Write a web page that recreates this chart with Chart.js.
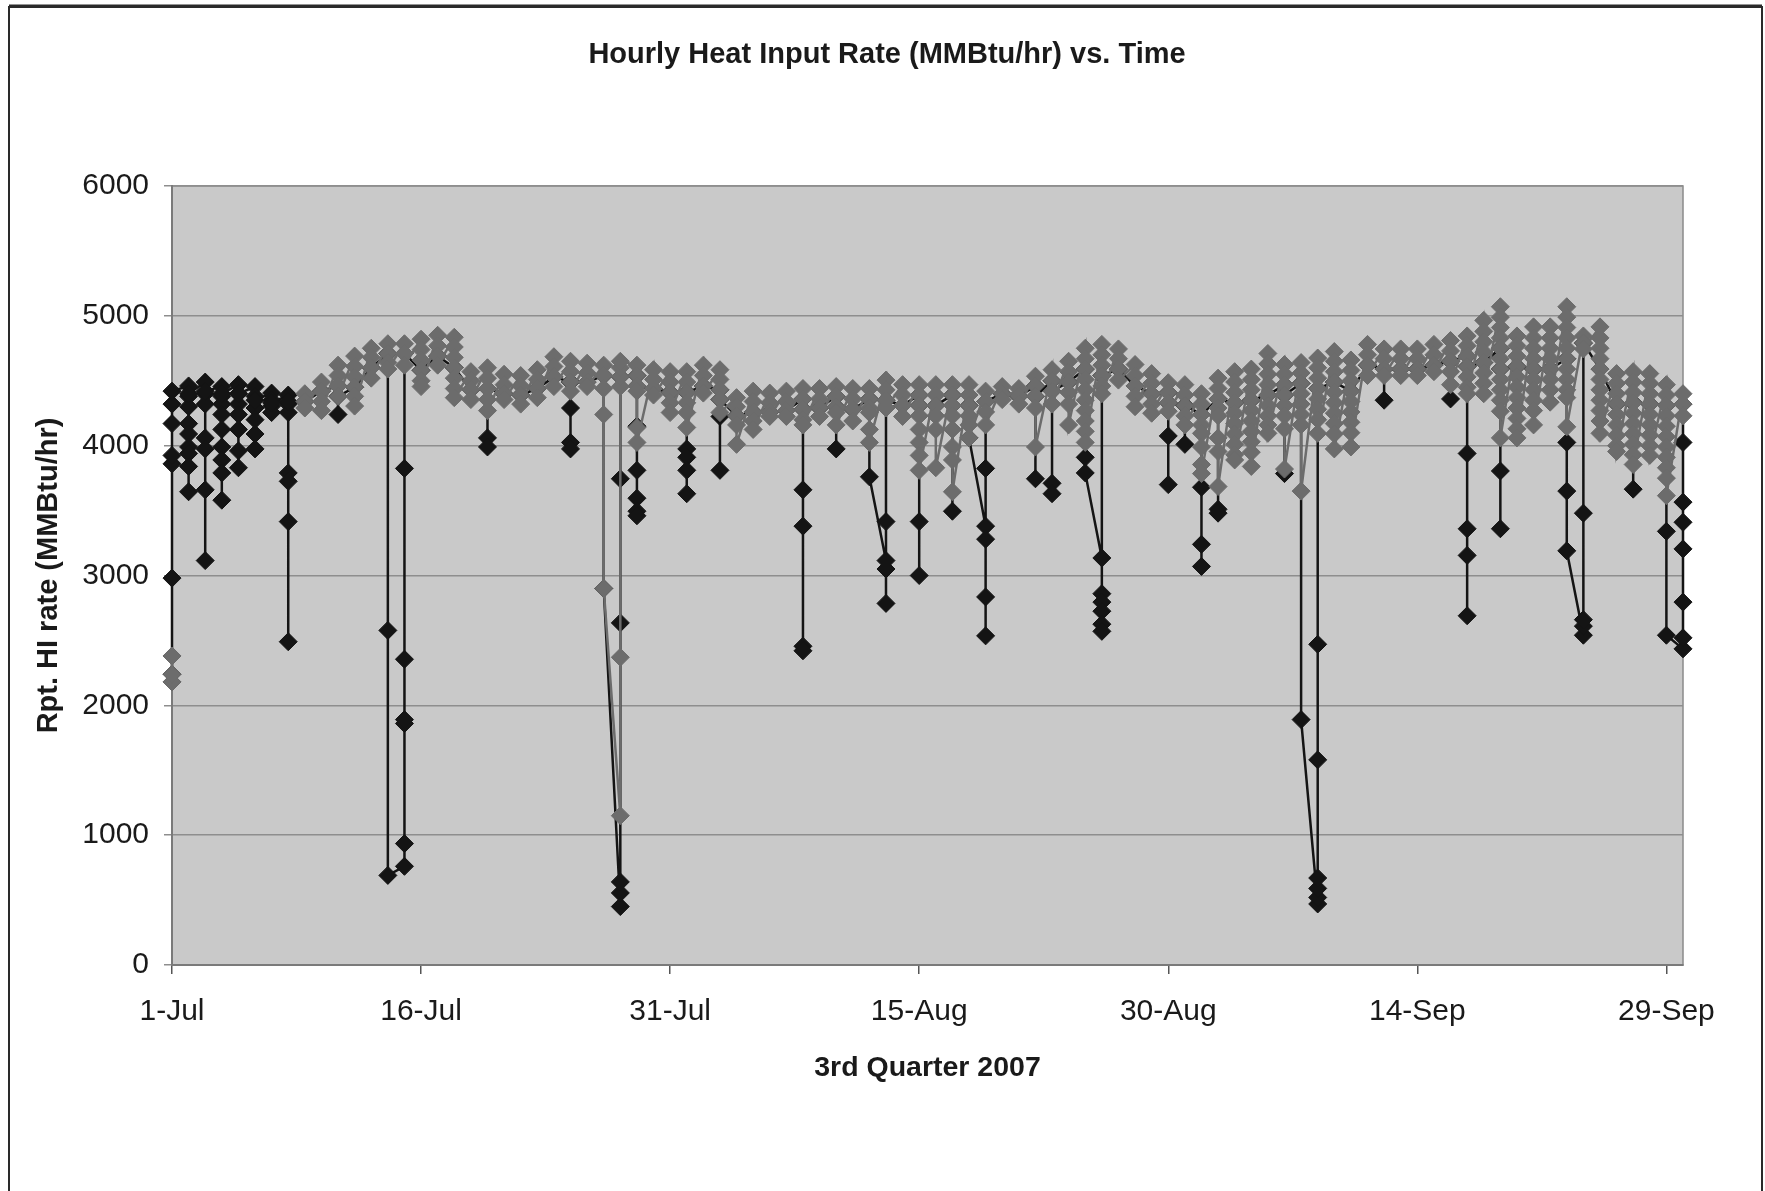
<!DOCTYPE html>
<html>
<head>
<meta charset="utf-8">
<title>Hourly Heat Input Rate (MMBtu/hr) vs. Time</title>
<script src="https://cdn.jsdelivr.net/npm/chart.js@4.4.0/dist/chart.umd.min.js"></script>
<style>
  html, body { margin: 0; padding: 0; background: #fff; }
</style>
</head>
<body>
<canvas id="hi-rate" width="1765" height="1191"></canvas>
<script>
// x axis is in days, day 0 = 1-Jul 2007, day 91 = 30-Sep 2007
const tickDays = [0, 15, 30, 45, 60, 75, 90];
const tickLabels = ['1-Jul', '16-Jul', '31-Jul', '15-Aug', '30-Aug', '14-Sep', '29-Sep'];
const yTicks = [0, 1000, 2000, 3000, 4000, 5000, 6000];
const chartTitle = 'Hourly Heat Input Rate (MMBtu/hr) vs. Time';

// excel put all the hourly values of one date on the same x, so each day is a list
// gray series (drawn on top)
const grayRate = [
    [2180, 2240, 2380],
    [], [], [], [], [], [], [],
    [4400, 4340, 4290],
    [4490, 4420, 4340, 4270],
    [4620, 4540, 4460, 4380],
    [4690, 4610, 4530, 4450, 4380, 4305],
    [4750, 4680, 4600, 4520],
    [4785, 4710, 4640, 4590],
    [4785, 4710, 4620],
    [4820, 4740, 4660, 4580, 4500, 4455],
    [4850, 4770, 4690, 4620],
    [4835, 4760, 4680, 4600, 4520, 4440, 4370],
    [4570, 4500, 4430, 4355],
    [4600, 4520, 4440, 4355, 4270],
    [4550, 4470, 4400, 4355],
    [4540, 4460, 4390, 4320],
    [4585, 4510, 4440, 4370],
    [4685, 4610, 4530, 4455],
    [4650, 4570, 4490, 4420],
    [4635, 4560, 4490, 4455],
    [4620, 4540, 4440, 4240, 2900],
    [1150, 2370, 4455, 4530, 4600, 4650],
    [4620, 4540, 4460, 4420, 4140, 4025],
    [4585, 4510, 4440, 4390],
    [4570, 4490, 4410, 4330, 4255],
    [4570, 4490, 4410, 4330, 4255, 4140],
    [4620, 4540, 4460, 4405],
    [4585, 4510, 4430, 4355, 4255],
    [4370, 4300, 4230, 4160, 4010],
    [4420, 4340, 4260, 4190, 4125],
    [4405, 4330, 4260, 4225],
    [4420, 4340, 4270, 4225],
    [4440, 4360, 4280, 4200, 4160],
    [4440, 4360, 4290, 4225],
    [4455, 4380, 4300, 4255, 4160],
    [4440, 4360, 4280, 4190],
    [4440, 4360, 4290, 4255, 4125, 4025],
    [4505, 4430, 4350, 4290],
    [4470, 4390, 4310, 4225],
    [4470, 4390, 4310, 4230, 4125, 4025, 3925, 3810],
    [4470, 4390, 4310, 4230, 4125, 3830],
    [4470, 4390, 4310, 4230, 4125, 3990, 3890, 3645],
    [4470, 4390, 4310, 4230, 4160, 4060],
    [4420, 4340, 4260, 4160],
    [4455, 4400, 4355],
    [4440, 4380, 4320],
    [4535, 4460, 4380, 4290, 3990],
    [4585, 4500, 4420, 4320],
    [4650, 4570, 4490, 4410, 4320, 4160],
    [4750, 4670, 4590, 4510, 4430, 4350, 4270, 4190, 4110, 4025],
    [4780, 4700, 4620, 4540, 4460, 4400],
    [4745, 4670, 4590, 4505],
    [4625, 4540, 4460, 4380, 4300],
    [4555, 4480, 4400, 4320, 4250],
    [4485, 4410, 4330, 4265],
    [4470, 4390, 4310, 4230, 4160],
    [4400, 4320, 4240, 4160, 4095, 3990, 3855, 3785],
    [4520, 4440, 4360, 4290, 4230, 4060, 3955, 3685],
    [4570, 4490, 4410, 4330, 4250, 4170, 4090, 4010, 3930, 3890],
    [4590, 4510, 4430, 4350, 4270, 4190, 4110, 4030, 3950, 3840],
    [4710, 4630, 4550, 4470, 4390, 4310, 4230, 4160, 4095],
    [4625, 4550, 4470, 4390, 4310, 4230, 4130, 3820],
    [4640, 4560, 4480, 4400, 4320, 4240, 4160, 3650],
    [4675, 4600, 4520, 4440, 4360, 4280, 4200, 4095],
    [4725, 4650, 4570, 4490, 4410, 4330, 4250, 4170, 4090, 3975],
    [4660, 4580, 4500, 4420, 4340, 4260, 4180, 4100, 3990],
    [4780, 4700, 4620, 4540],
    [4745, 4670, 4590, 4540],
    [4745, 4670, 4590, 4540],
    [4745, 4670, 4590, 4540],
    [4780, 4700, 4620, 4570],
    [4810, 4730, 4650, 4570, 4470],
    [4845, 4770, 4690, 4610, 4530, 4450, 4400],
    [4965, 4880, 4800, 4720, 4640, 4560, 4480, 4400],
    [5070, 4990, 4910, 4830, 4750, 4670, 4590, 4510, 4430, 4350, 4265, 4060],
    [4845, 4770, 4690, 4610, 4530, 4450, 4370, 4290, 4210, 4130, 4060],
    [4915, 4830, 4750, 4670, 4590, 4510, 4430, 4350, 4270, 4160],
    [4915, 4830, 4750, 4670, 4590, 4510, 4430, 4335],
    [5070, 4990, 4910, 4830, 4750, 4670, 4590, 4510, 4430, 4370, 4145],
    [4845, 4790, 4745],
    [4915, 4830, 4750, 4670, 4590, 4510, 4430, 4350, 4270, 4190, 4095],
    [4555, 4480, 4400, 4320, 4240, 4160, 4080, 4000, 3955],
    [4570, 4490, 4410, 4330, 4250, 4170, 4090, 4010, 3930, 3855],
    [4555, 4480, 4400, 4320, 4240, 4160, 4080, 4000, 3925],
    [4470, 4390, 4310, 4230, 4150, 4070, 3990, 3910, 3830, 3750, 3615],
    [4400, 4320, 4230]
];

// black series (underneath, shows where it drops below the gray one)
const blackRate = [
    [2180, 2240, 2380, 2980, 3860, 3925, 4170, 4320, 4420],
    [4460, 4380, 4300, 4170, 4090, 3990, 3940, 3840, 3645, 4400],
    [4490, 4400, 4320, 4060, 3975, 3660, 3115, 4420],
    [4455, 4380, 4320, 4240, 4125, 3990, 3890, 3790, 3580, 4400],
    [4470, 4400, 4320, 4240, 4125, 3960, 3830, 4400],
    [4455, 4380, 4290, 4200, 4090, 3975, 4350],
    [4405, 4350, 4305, 4255, 4330],
    [4390, 4320, 4255, 3790, 3725, 3415, 2490, 4340],
    [4340],
    [4420],
    [4460, 4240, 4380],
    [4450],
    [4600],
    [4710, 2577, 690],
    [760, 935, 1860, 1890, 2355, 3825, 4710],
    [4580],
    [4690],
    [4600],
    [4430],
    [4440, 4060, 3990, 4440],
    [4400],
    [4390],
    [4440],
    [4530],
    [4490, 4290, 4025, 3975, 4490],
    [4490],
    [4540, 2900],
    [450, 555, 640, 2635, 3745, 4530],
    [4540, 4150, 3810, 3595, 3495, 3460, 4460],
    [4440],
    [4410],
    [4410, 3975, 3910, 3810, 3630, 4410],
    [4460],
    [4430, 4225, 3810, 4355],
    [4230],
    [4260],
    [4260],
    [4270],
    [4360, 3660, 3380, 2455, 2420, 4280],
    [4290],
    [4380, 3975, 4300],
    [4280],
    [4360, 3760],
    [3115, 3050, 2785, 3415, 4350],
    [4310],
    [4390, 3415, 3000, 4310],
    [4310],
    [4390, 3495, 4310],
    [4310, 4060],
    [3380, 3280, 2835, 2535, 3825, 4340],
    [4400],
    [4380],
    [4460, 3745, 4380],
    [4500, 3710, 3630, 4420],
    [4490],
    [4590, 3910, 3790],
    [3135, 2860, 2795, 2725, 2625, 2570, 4540],
    [4590],
    [4460],
    [4400],
    [4410, 4075, 3700, 4330],
    [4310, 4010, 4310],
    [4240, 3680, 3240, 3070, 4240],
    [4360, 3510, 3480, 4360],
    [4330],
    [4350],
    [4390],
    [4470, 3785, 4390],
    [4480, 1890],
    [470, 520, 590, 670, 1580, 2470, 4440],
    [4490],
    [4420],
    [4620],
    [4590, 4350, 4590],
    [4590],
    [4590],
    [4620],
    [4650, 4360, 4650],
    [4690, 3940, 3360, 3155, 2690, 4610],
    [4640],
    [4750, 3805, 3360, 4590],
    [4610],
    [4590],
    [4590],
    [4670, 4025, 3650, 3190],
    [2540, 2610, 2660, 3480, 4790],
    [4590],
    [4320],
    [4330, 3665, 4330],
    [4320],
    [4310, 3340, 2540],
    [2435, 2520, 2795, 3205, 3410, 3565, 4025, 4320]
];

// flatten the day lists into x/y points, empty day = gap in the line
function toPoints(days) {
    let pts = [];
    days.forEach((vals, d) => {
        if (vals.length == 0) pts.push({x: d, y: null});
        vals.forEach(v => pts.push({x: d, y: v}));
    });
    return pts;
}

const font = "'Liberation Sans', Arial, sans-serif";
const ink = '#1a1a1a';

// white page, scanned frame, gray plot area and the title (off centre like the original)
const sheet = {
    id: 'sheet',
    beforeDraw(chart) {
        const c = chart.ctx;
        const a = chart.chartArea;
        c.save();
        c.fillStyle = '#fff';
        c.fillRect(0, 0, chart.width, chart.height);
        c.fillStyle = '#c9c9c9';
        c.fillRect(a.left, a.top, a.right - a.left, a.bottom - a.top);
        c.strokeStyle = '#8a8a8a';
        c.lineWidth = 1.5;
        c.strokeRect(a.left, a.top, a.right - a.left, a.bottom - a.top);
        c.strokeStyle = '#2a2a2a';
        c.lineWidth = 2;
        c.strokeRect(9, 7, 1753, 1300);
        c.lineWidth = 3;
        c.beginPath();
        c.moveTo(9, 6);
        c.lineTo(1762, 6);
        c.stroke();
        c.fillStyle = ink;
        c.font = "bold 29px " + font;
        c.textAlign = 'center';
        c.textBaseline = 'middle';
        c.fillText(chartTitle, 887, 55);
        c.restore();
    }
};

new Chart(document.getElementById('hi-rate'), {
    type: 'line',
    data: {
        datasets: [{
            data: toPoints(grayRate),
            borderColor: '#6c6c6c',
            backgroundColor: '#6c6c6c',
            borderWidth: 2.5,
            pointStyle: 'rectRot',
            pointRadius: 9,
            pointBorderWidth: 1,
            pointBorderColor: '#6c6c6c',
            pointBackgroundColor: '#6c6c6c',
            tension: 0,
            clip: false
        }, {
            data: toPoints(blackRate),
            borderColor: '#141414',
            backgroundColor: '#141414',
            borderWidth: 2.5,
            pointStyle: 'rectRot',
            pointRadius: 9,
            pointBorderWidth: 1,
            pointBorderColor: '#141414',
            pointBackgroundColor: '#141414',
            tension: 0,
            clip: false
        }]
    },
    options: {
        responsive: false,
        animation: false,
        events: [],
        layout: {
            padding: {left: 10, right: 82, top: 186, bottom: 100}
        },
        plugins: {
            legend: {display: false},
            tooltip: {enabled: false},
            title: {display: false}
        },
        scales: {
            x: {
                type: 'linear',
                min: 0,
                max: 91,
                afterBuildTicks: s => { s.ticks = tickDays.map(v => ({value: v})); },
                afterFit: s => { s.height = 126; },
                grid: {drawOnChartArea: false, drawTicks: true, tickLength: 9, color: '#555', lineWidth: 1.5},
                border: {color: '#7a7a7a', width: 2},
                ticks: {
                    autoSkip: false,
                    maxRotation: 0,
                    padding: 20,
                    color: ink,
                    font: {family: font, size: 30},
                    callback: (v, i) => tickLabels[i]
                },
                title: {
                    display: true,
                    text: '3rd Quarter 2007',
                    color: ink,
                    font: {family: font, size: 28.5, weight: 'bold'},
                    padding: {top: 0, bottom: 6}
                }
            },
            y: {
                min: 0,
                max: 6000,
                afterBuildTicks: s => { s.ticks = yTicks.map(v => ({value: v})); },
                afterFit: s => { s.width = 162; },
                grid: {color: '#8e8e8e', lineWidth: 1.5, tickLength: 8},
                border: {color: '#7a7a7a', width: 2},
                ticks: {
                    padding: 15,
                    color: ink,
                    font: {family: font, size: 30},
                    callback: v => String(v)
                },
                title: {
                    display: true,
                    text: 'Rpt. HI rate (MMBtu/hr)',
                    color: ink,
                    font: {family: font, size: 29, weight: 'bold'},
                    padding: {top: 22, bottom: 0}
                }
            }
        }
    },
    plugins: [sheet]
});
</script>
</body>
</html>
